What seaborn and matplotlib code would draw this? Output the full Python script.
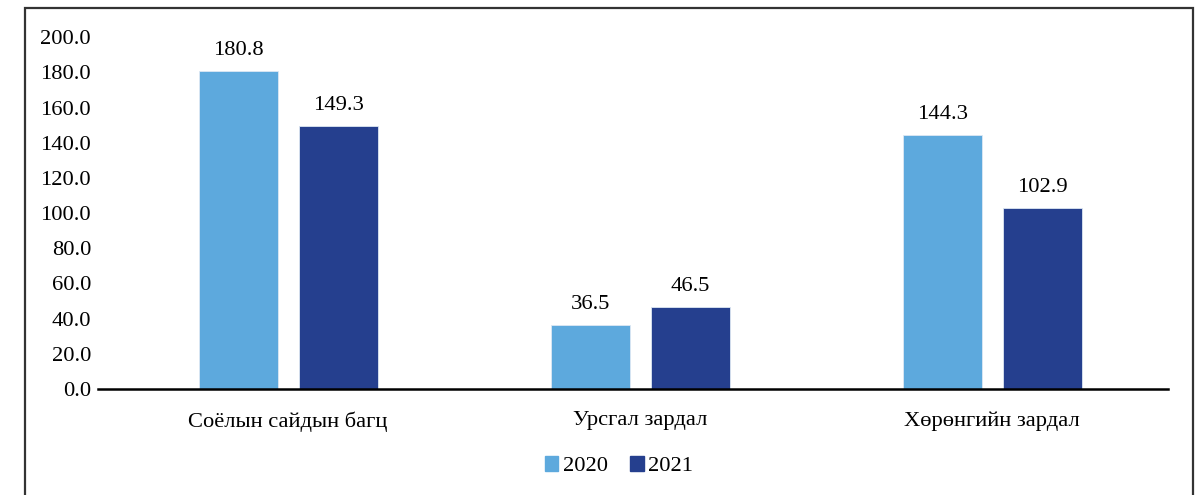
import pandas as pd
import matplotlib.pyplot as plt
import matplotlib.patches as mpatches
import seaborn as sns

# Data
categories = ['Соёлын сайдын багц', 'Урсгал зардал', 'Хөрөнгийн зардал']
years = ['2020', '2021']
values_2020 = [180.8, 36.5, 144.3]
values_2021 = [149.3, 46.5, 102.9]
y_ticks = [0, 20, 40, 60, 80, 100, 120, 140, 160, 180, 200]

colors = ['#5DA9DD', '#253F8E']
fs = 16.2

df = pd.DataFrame({
    'category': categories * 2,
    'year': [years[0]] * 3 + [years[1]] * 3,
    'value': values_2020 + values_2021,
})

sns.set_style('white')
plt.rcParams['font.family'] = ['Liberation Serif', 'DejaVu Serif']
plt.rcParams['text.color'] = 'black'
plt.rcParams['xtick.color'] = 'black'
plt.rcParams['ytick.color'] = 'black'

fig = plt.figure(figsize=(12.02, 4.95), dpi=100)
ax = fig.add_axes([0.0815, 0.214, 0.8905, 0.711])

sns.barplot(data=df, x='category', y='value', hue='year', order=categories,
            hue_order=years, palette=colors, saturation=1, width=0.568, gap=0.21,
            edgecolor='#dde8f3', linewidth=0.6, ax=ax)

# value labels above bars
for cont in ax.containers:
    ax.bar_label(cont, fmt='%.1f', padding=8, fontsize=fs, color='black')

ax.set_ylim(0, 200)
ax.set_xlim(-0.54, 2.5)
ax.set_yticks(y_ticks)
ax.set_yticklabels([f'{v:.1f}' for v in y_ticks], fontsize=fs)
ax.tick_params(axis='x', labelsize=fs, length=0, pad=16)
ax.tick_params(axis='y', length=0, pad=5)
ax.set_xlabel('')
ax.set_ylabel('')

for s in ['top', 'right', 'left']:
    ax.spines[s].set_visible(False)
ax.spines['bottom'].set_color('black')
ax.spines['bottom'].set_linewidth(1.8)

# legend at the bottom
handles = [mpatches.Patch(color=c, label=y) for c, y in zip(colors, years)]
ax.get_legend().remove()
fig.legend(handles=handles, loc='center', bbox_to_anchor=(0.515, 0.058), ncol=2,
           frameon=False, fontsize=fs, handlelength=0.6, handleheight=0.6,
           handletextpad=0.2, columnspacing=1.0)

# outer frame (bottom edge runs past the image)
frame = mpatches.Rectangle((25 / 1202, -0.05), (1193 - 25) / 1202, 1.05 - 8 / 495,
                           transform=fig.transFigure, fill=False,
                           edgecolor='#333333', linewidth=1.6)
fig.patches.append(frame)

fig.savefig('out.png', dpi=100)
